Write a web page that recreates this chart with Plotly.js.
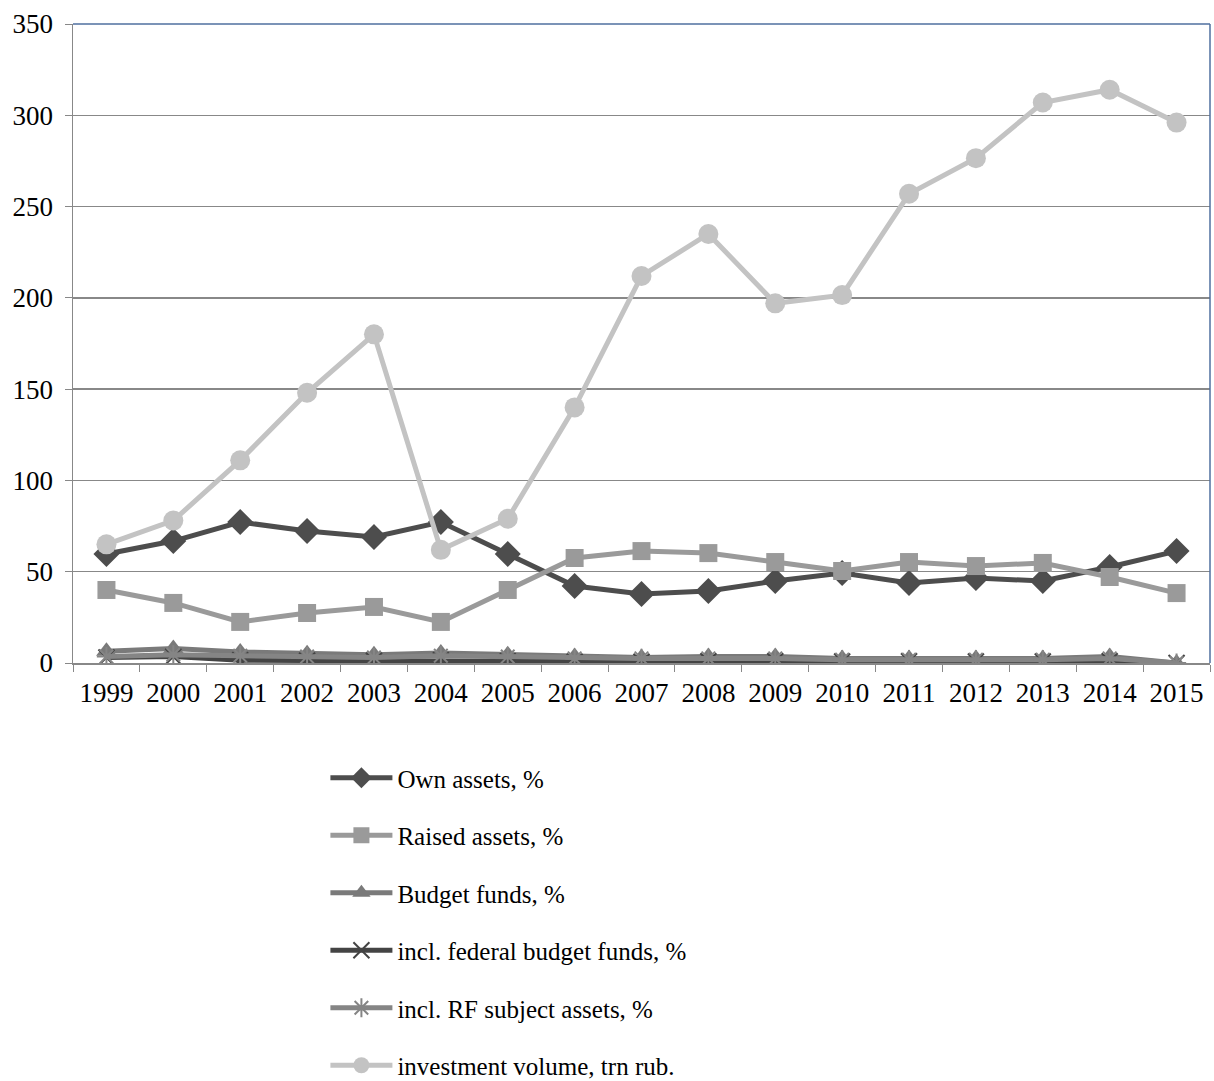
<!DOCTYPE html>
<html>
<head>
<meta charset="utf-8">
<script src="https://cdn.plot.ly/plotly-3.0.1.min.js"></script>
<style>html,body{margin:0;padding:0;background:#fff;}#chart{width:1214px;height:1081px;}</style>
</head>
<body>
<div id="chart"></div>
<script>
const years = ["1999","2000","2001","2002","2003","2004","2005","2006","2007","2008","2009","2010","2011","2012","2013","2014","2015"];
const ownAssets = [59.7,66.8,77.2,72.3,69.0,77.2,59.7,42.2,37.8,39.4,44.9,49.3,43.8,46.5,44.9,52.6,61.3];
const raisedAssets = [40.0,32.9,22.5,27.4,30.7,22.5,40.0,57.5,61.3,60.2,55.3,50.4,55.3,53.1,54.8,47.1,38.3];
const budgetFunds = [6.5,8.0,6.0,5.0,4.5,5.5,4.5,3.5,3.0,3.5,3.5,2.5,2.5,2.5,2.5,3.5,0];
const federalFunds = [3.0,3.5,1.5,1.3,1.2,1.5,1.0,0.7,0.7,1.0,1.0,0.8,1.0,0.8,0.8,1.0,0];
const subjectAssets = [3.5,4.5,4.0,3.5,3.0,4.0,3.5,2.5,2.5,2.5,2.5,1.8,1.8,1.8,1.8,2.5,0];
const investmentVolume = [65,78,111,148,180,62,79,140,212,235,197,201.5,257,276.5,307,314,296];
const yTicks = [0,50,100,150,200,250,300,350];

function tr(name, y, color, symbol, size, mcolor) {
  const open = symbol.indexOf('thin') >= 0 || symbol.indexOf('asterisk') >= 0;
  return {x: years, y: y, name: name, type: 'scatter', mode: 'lines+markers', legendgroup: name,
    line: {color: color, width: 5},
    marker: {symbol: symbol, size: size, color: mcolor || color, line: {color: mcolor || color, width: open ? 2 : 0}}};
}
const data = [
  tr("Own assets, %", ownAssets, "#4d4d4d", "diamond", 20),
  tr("Raised assets, %", raisedAssets, "#9a9a9a", "square", 18),
  tr("Budget funds, %", budgetFunds, "#7a7a7a", "triangle-up", 18),
  tr("incl. federal budget funds, %", federalFunds, "#444444", "x-thin", 16),
  tr("incl. RF subject assets, %", subjectAssets, "#858585", "asterisk", 16),
  tr("investment volume, trn rub.", investmentVolume, "#c3c3c3", "circle", 20)
];
const fam = "Liberation Serif, Times New Roman, serif";
const layout = {
  width: 1214, height: 1081,
  margin: {l: 73, r: 4, t: 24, b: 418, autoexpand: false},
  paper_bgcolor: "#fff", plot_bgcolor: "#fff",
  font: {family: fam, color: "#000"},
  showlegend: true,
  legend: {x: 0.222, y: -0.144, xanchor: 'left', yanchor: 'top', font: {family: fam, size: 25, color: '#000'},
    tracegroupgap: 22, itemwidth: 62, bgcolor: 'rgba(0,0,0,0)'},
  xaxis: {type: 'category', tickson: 'boundaries', ticks: 'outside', ticklen: 7, tickcolor: '#888',
    showline: true, linecolor: '#888', linewidth: 1.5, showgrid: false, zeroline: false, ticklabelstandoff: 5,
    tickfont: {family: fam, size: 27, color: '#000'}, range: [-0.5, 16.5]},
  yaxis: {range: [0, 350], tickvals: yTicks, ticks: 'outside', ticklen: 7, tickcolor: '#888',
    showline: true, linecolor: '#888', linewidth: 1.5, showgrid: true, gridcolor: '#888888', gridwidth: 1.4,
    zeroline: false, ticklabelstandoff: 6, tickfont: {family: fam, size: 27, color: '#000'}},
  shapes: [
    {type: 'line', xref: 'paper', yref: 'paper', x0: 0, x1: 1, y0: 1, y1: 1, line: {color: '#4f6f9f', width: 1.5}},
    {type: 'line', xref: 'paper', yref: 'paper', x0: 1, x1: 1, y0: 0, y1: 1, line: {color: '#4f6f9f', width: 1.5}}
  ]
};
Plotly.newPlot('chart', data, layout, {displayModeBar: false, staticPlot: true});
</script>
</body>
</html>
